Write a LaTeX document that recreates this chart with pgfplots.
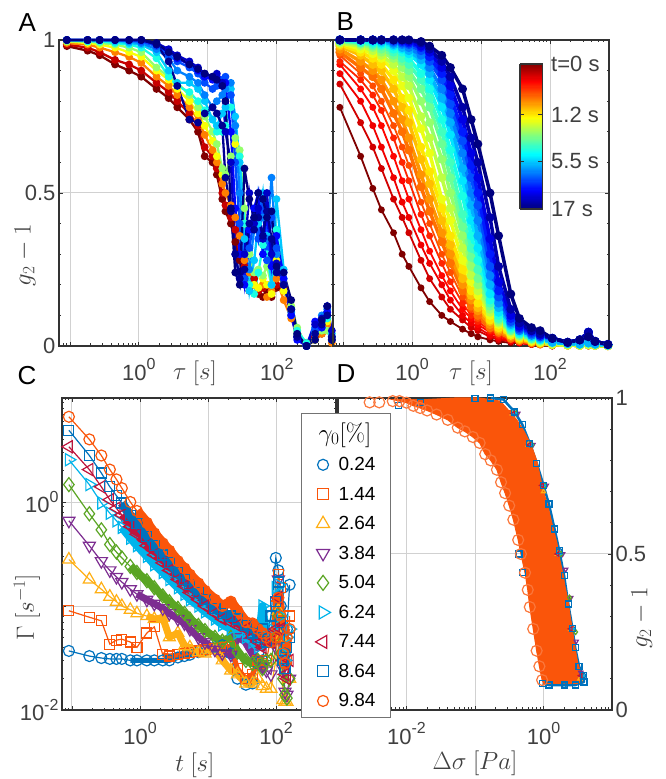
\documentclass[border=0pt]{standalone}
\usepackage[no-math]{fontspec}
\setmainfont{Liberation Sans}
\usepackage{pgfplots}
\usepackage{pgfplotstable}
\pgfplotsset{compat=1.18}
\definecolor{cB}{RGB}{0,114,189}
\definecolor{cO}{RGB}{250,85,10}
\definecolor{cY}{RGB}{255,175,20}
\definecolor{cP}{RGB}{125,45,145}
\definecolor{cG}{RGB}{90,165,35}
\definecolor{cC}{RGB}{0,180,235}
\definecolor{cR}{RGB}{190,20,60}
\newcommand\tl{\fontsize{22}{24}\selectfont}
\newcommand\ml{\fontsize{23}{25}\selectfont}
\newcommand\tenp[1]{10\raisebox{.48em}{\fontsize{16}{16}\selectfont #1}}
\pgfplotsset{
 colormap={rjet}{rgb255(0cm)=(128,0,0); rgb255(1cm)=(255,0,0); rgb255(3cm)=(255,255,0); rgb255(5cm)=(0,255,255); rgb255(7cm)=(0,0,255); rgb255(8cm)=(0,0,128)},
 base/.style={scale only axis,clip=false,axis line style={line width=1.2pt,draw=black!80},
  every tick/.style={line width=.9pt,black!80},every minor tick/.style={line width=.8pt,black!80},
  major tick length=4pt,minor tick length=2.5pt,
  grid=major,major grid style={black!18,line width=1pt},
  tick label style={font=\tl,text=black!75},label style={font=\ml,text=black!75},
  xticklabel style={yshift=-9pt}},
 logx/.style={minor xtick={.002,.003,.004,.005,.006,.007,.008,.009,.02,.03,.04,.05,.06,.07,.08,.09,.2,.3,.4,.5,.6,.7,.8,.9,2,3,4,5,6,7,8,9,20,30,40,50,60,70,80,90,200,300,400,500,600,700}},
 logy/.style={minor ytick={.02,.03,.04,.05,.06,.07,.08,.09,.2,.3,.4,.5,.6,.7,.8,.9,2,3,4,5,6,7,8,9}},
 cur/.style={color of colormap={#1 of rjet},mark=*,mark size=2.5pt,line width=1.8pt,mark options={solid}},
 curb/.style={cur=#1,line width=3.5pt,mark size=2.6pt},
 cura/.style={cur=#1,line width=2.3pt,mark size=2.7pt},
 ser/.style n args={3}{#1,mark=#2,mark size=5.5pt,line width=1.2pt,mark options={solid,fill=none,#3}},
 fat/.style n args={4}{forget plot,#1,no marks,line width=#2,line join=round,skip coords between index={0}{#3},skip coords between index={#4}{34}}
}
% panel B: first row lag times, then one row per age
\pgfplotstableread[header=false]{
.09 .18 .27 .36 .54 .72 .9 1.35 1.8 2.7 3.6 5.4 7.2 9 13.5 18 27 36 54 72 108 180 270 360 450 690
.78 .62 .515 .445 .37 .30 .26 .19 .145 .10 .08 .055 .04 .03 .02 .015 .01 .01 .005 .005 0 .005 0 0 .005 0
.856 .73 .65 .58 .48 .42 .37 .28 .22 .16 .12 .085 .06 .05 .03 .02 .015 .01 .005 .005 0 0 .005 0 0 0
.89 .80 .72 .65 .55 .47 .42 .33 .27 .20 .15 .10 .075 .06 .035 .025 .015 .01 .005 .005 0 0 0 0 0 0
.92 .84 .78 .72 .62 .54 .48 .38 .31 .23 .18 .12 .09 .07 .045 .03 .02 .012 .006 .004 .002 0 0 .002 0 0
.93 .87 .82 .77 .68 .6 .54 .43 .36 .27 .21 .14 .1 .08 .05 .035 .02 .014 .007 .005 .003 .002 0 0 0 0
.95 .89 .85 .8 .72 .65 .59 .47 .4 .3 .24 .16 .12 .09 .055 .04 .025 .015 .01 .005 .005 .003 .002 .004 .002 .001
.96 .91 .88 .84 .76 .7 .64 .52 .44 .34 .27 .18 .13 .1 .06 .045 .025 .017 .01 .006 .005 .003 .002 .004 .002 .001
.97 .93 .9 .87 .8 .74 .68 .56 .48 .37 .3 .2 .15 .115 .07 .05 .03 .02 .012 .008 .005 .003 .002 .004 .002 .001
.98 .95 .92 .9 .84 .78 .73 .61 .53 .41 .33 .22 .165 .125 .08 .055 .035 .022 .014 .01 .005 .003 .002 .004 .002 .001
.985 .96 .94 .92 .87 .81 .77 .65 .57 .45 .36 .25 .18 .14 .085 .06 .035 .025 .015 .01 .005 .003 .002 .004 .002 .001
.99 .97 .955 .94 .9 .85 .81 .71 .63 .48 .41 .28 .21 .165 .1 .07 .04 .03 .018 .012 .005 .003 .002 .004 .002 .001
.99 .98 .965 .95 .92 .88 .85 .75 .68 .55 .45 .32 .23 .18 .11 .075 .045 .03 .02 .014 .005 .003 .002 .004 .002 .001
.995 .985 .975 .96 .94 .91 .88 .8 .73 .61 .5 .36 .26 .2 .12 .08 .05 .035 .022 .016 .012 .008 .006 .01 .006 .003
.995 .99 .98 .97 .95 .93 .9 .84 .78 .66 .55 .39 .29 .22 .13 .085 .05 .035 .024 .018 .012 .008 .006 .01 .006 .003
1 .99 .985 .98 .96 .94 .92 .87 .81 .7 .6 .43 .32 .25 .14 .09 .055 .04 .025 .02 .012 .008 .006 .01 .006 .003
1 .995 .99 .985 .97 .96 .94 .89 .84 .74 .64 .49 .36 .28 .15 .1 .06 .04 .03 .02 .012 .008 .006 .01 .006 .003
1 1 .995 .99 .98 .97 .955 .92 .87 .78 .69 .54 .41 .32 .17 .11 .065 .045 .03 .022 .012 .008 .006 .01 .006 .003
1 1 1 .995 .985 .975 .965 .935 .89 .81 .73 .58 .46 .36 .2 .125 .07 .05 .035 .025 .012 .008 .006 .01 .006 .003
1 1 1 1 .99 .985 .975 .95 .91 .84 .76 .63 .5 .41 .23 .14 .075 .05 .035 .03 .025 .012 .02 .045 .015 .005
1 1 1 1 .995 .99 .985 .965 .93 .87 .79 .67 .55 .46 .26 .16 .08 .055 .04 .03 .025 .012 .02 .045 .015 .005
1 1 1 1 1 .995 .99 .975 .945 .89 .82 .7 .59 .5 .3 .18 .09 .06 .045 .035 .025 .012 .02 .045 .015 .005
1 1 1 1 1 1 .995 .98 .96 .91 .85 .74 .63 .55 .35 .21 .1 .065 .05 .035 .025 .012 .02 .045 .015 .005
1 1 1 1 1 1 1 .99 .97 .93 .88 .78 .68 .6 .42 .26 .12 .075 .05 .04 .025 .012 .02 .045 .015 .005
1 1 1 1 1 1 1 .995 .98 .95 .91 .84 .74 .66 .5 .36 .17 .09 .06 .05 .025 .012 .02 .03 .015 .005
}\Btab
\pgfplotstabletranspose\BT{\Btab}
% panel A
\pgfplotstableread[header=false]{
.09 .18 .27 .45 .72 1.08 1.8 2.7 3.6 5.4 7.2 9 11.7 13.5 16.2 18 21.6 25 29 34 40 47 54 63 72 84 99 126 162 198 270 360 450 540 630
.98 .965 .95 .92 .90 .88 .84 .81 .78 .74 .70 .62 .60 .56 .48 .44 .40 .34 .28 .22 .18 .20 .17 .16 .18 .16 .19 .20 .12 .04 0 .02 .04 .10 .03
.985 .975 .96 .935 .92 .90 .86 .83 .80 .76 .72 .65 .62 .58 .50 .46 .42 .38 .30 .26 .20 .22 .18 .19 .2 .17 .2 .19 .1 .03 .01 .03 .05 .09 .02
.99 .985 .975 .96 .945 .925 .88 .85 .82 .78 .74 .69 .64 .6 .53 .5 .46 .42 .36 .28 .24 .2 .19 .2 .16 .18 .22 .15 .09 .04 0 .02 .04 .07 .01
.995 .99 .985 .975 .96 .945 .90 .87 .84 .8 .76 .72 .67 .62 .56 .55 .6 .66 .62 .4 .3 .2 .19 .22 .2 .17 .28 .18 .13 .05 0 .02 .06 .08 .02
.995 .995 .99 .985 .975 .96 .91 .88 .86 .82 .78 .75 .7 .66 .58 .56 .62 .68 .64 .45 .3 .24 .25 .23 .26 .2 .3 .2 .13 .06 0 .02 .05 .05 .02
1 .995 .995 .99 .985 .975 .94 .88 .85 .83 .8 .77 .74 .7 .7 .72 .78 .72 .62 .4 .2 .17 .24 .33 .3 .2 .38 .22 .12 .05 .01 .04 .08 .09 .03
1 1 1 .995 .99 .985 .96 .9 .86 .86 .84 .8 .74 .72 .76 .78 .84 .75 .6 .35 .18 .28 .4 .5 .36 .2 .48 .25 .1 .04 0 .05 .06 .1 .04
1 1 1 1 .995 .99 .97 .94 .9 .88 .86 .82 .78 .8 .82 .84 .86 .72 .5 .3 .25 .38 .5 .42 .35 .55 .3 .2 .11 .03 0 .06 .1 .12 .02
1 1 1 1 1 .995 .98 .95 .93 .91 .89 .86 .84 .85 .87 .88 .82 .6 .4 .22 .32 .42 .35 .48 .28 .42 .32 .24 .12 .03 0 .05 .08 .13 .03
1 1 1 1 1 1 .985 .96 .94 .92 .9 .88 .87 .88 .85 .86 .7 .45 .3 .2 .38 .45 .5 .3 .44 .26 .36 .22 .1 .02 0 .08 .06 .11 .02
1 1 1 1 1 1 .99 .97 .95 .93 .91 .89 .88 .89 .86 .7 .6 .3 .22 .3 .5 .4 .45 .35 .5 .3 .27 .2 .12 .03 0 .07 .09 .13 .05
1 1 1 1 1 1 .985 .93 .85 .74 .73 .76 .78 .76 .72 .55 .44 .3 .22 .25 .4 .38 .42 .36 .44 .35 .24 .2 .12 .03 0 .04 .07 .1 .03
1 1 1 1 1 1 .99 .96 .945 .92 .905 .89 .88 .87 .85 .8 .45 .24 .2 .58 .48 .42 .5 .48 .42 .44 .26 .24 .15 .04 0 .02 .085 .13 .02
}\Atab
\pgfplotstabletranspose\AT{\Atab}
% panel C
\pgfplotstableread[header=false]{
.09 .18 .27 .36 .45 .54 .72 .9 1.26 1.62 2.16 2.7 3.6 4.5 5.4 7.2 9 12.6 16.2 21.6 27 36 45 54 63 72 84 99 108 117 126 135 144 158
.037 .033 .0316 .031 .031 .031 .03 .03 .03 .03 .03 .03 .032 .033 .034 .036 .038 .04 .042 .035 .02 .0175 .018 .028 .03 .05 .08 .29 .22 .1 .15 .035 .06 .16
.09 .078 .072 .043 .047 .048 .045 .04 .055 .063 .034 .033 .034 .035 .036 .037 .038 .039 .04 .041 .025 .02 .022 .03 .028 .03 .05 .1 .2 .15 .06 .025 .03 .08
.28 .18 .145 .123 .11 .1 .092 .085 .08 .075 .077 .05 .055 .041 .04 .036 .035 .038 .03 .024 .022 .018 .018 .02 .017 .016 .016 .03 .09 .05 .0125 .012 .012 .02
.66 .38 .27 .22 .19 .17 .145 .13 .115 .105 .095 .085 .075 .068 .06 .05 .045 .038 .035 .034 .05 .045 .035 .03 .026 .024 .022 .04 .18 .06 .025 .015 .014 .02
1.47 .77 .54 .39 .33 .29 .24 .21 .175 .15 .125 .11 .095 .085 .075 .065 .058 .05 .046 .05 .036 .03 .028 .03 .025 .03 .03 .05 .08 .035 .02 .014 .013 .02
2.55 1.47 .98 .78 .66 .57 .45 .38 .3 .25 .21 .18 .15 .13 .115 .1 .088 .075 .066 .06 .055 .05 .045 .04 .1 .05 .06 .15 .16 .08 .035 .03 .05 .06
3.4 2.05 1.4 1.05 .87 .75 .58 .49 .38 .31 .26 .22 .18 .155 .135 .115 .1 .085 .075 .07 .065 .06 .05 .045 .04 .05 .045 .06 .12 .06 .03 .022 .02 .03
4.9 2.8 1.9 1.4 1.15 .98 .74 .62 .47 .38 .31 .26 .21 .18 .16 .135 .115 .095 .085 .08 .075 .065 .055 .05 .06 .045 .08 .11 .17 .07 .03 .025 .04 .05
6.6 4.0 2.8 2.05 1.65 1.36 1.0 .82 .63 .5 .4 .34 .27 .23 .2 .165 .14 .115 .10 .11 .09 .07 .068 .06 .055 .05 .045 .05 .12 .08 .035 .028 .05 .06
}\Ctab
\pgfplotstabletranspose\CT{\Ctab}
\begin{document}
\begin{tikzpicture}[x=1pt,y=1pt]
\useasboundingbox (0,0) rectangle (665,779);
% ---------- A
\begin{axis}[base,logx,at={(59pt,433pt)},anchor=south west,width=274pt,height=306pt,
 xmode=log,xmin=.0692,xmax=655,ymin=0,ymax=1,
 xtick={.1,1,10,100},xticklabels={,\tenp{0},,\tenp{2}},
 ytick={0,.5,1},yticklabels={0,0.5,1},minor y tick num=4,
 xlabel={$\tau\ [s]$},xlabel style={at={(axis description cs:.496,-.088)},anchor=center},
 ylabel={$g_2-1$},ylabel style={at={(axis description cs:-.124,.297)},anchor=center}]
\addplot[cura=0] table[x index=1,y index=2]{\AT};
\addplot[cura=70] table[x index=1,y index=3]{\AT};
\addplot[cura=250] table[x index=1,y index=4]{\AT};
\addplot[cura=380] table[x index=1,y index=5]{\AT};
\addplot[cura=480] table[x index=1,y index=6]{\AT};
\addplot[cura=600] table[x index=1,y index=7]{\AT};
\addplot[cura=680] table[x index=1,y index=8]{\AT};
\addplot[cura=750] table[x index=1,y index=9]{\AT};
\addplot[cura=800] table[x index=1,y index=10]{\AT};
\addplot[cura=870] table[x index=1,y index=11]{\AT};
\addplot[cura=930] table[x index=1,y index=12]{\AT};
\addplot[cura=980] table[x index=1,y index=13]{\AT};
\addplot[cura=1000] table[x index=1,y index=14]{\AT};
\end{axis}
% ---------- B
\begin{axis}[base,logx,at={(333pt,433pt)},anchor=south west,width=276pt,height=306pt,
 xmode=log,xmin=.0716,xmax=716,ymin=0,ymax=1,
 xtick={.1,1,10,100},xticklabels={,\tenp{0},,\tenp{2}},
 ytick={0,.5,1},yticklabels={,,},minor y tick num=4,
 xlabel={$\tau\ [s]$},xlabel style={at={(axis description cs:.5,-.088)},anchor=center},
 colormap name=rjet,point meta min=0,point meta max=1,colorbar sampled,
 colorbar style={samples=129,at={(.6775,.9216)},anchor=north west,width=22.7pt,height=145pt,y dir=reverse,
  ytick={0,.35,.67,1},yticklabels={t=0 s,1.2 s,5.5 s,17 s},grid=none,
  minor y tick num=0,minor xtick={},minor ytick={},xticklabel style={yshift=0pt},
  axis line style={line width=1.2pt,draw=black!80},
  yticklabel style={font=\tl,text=black!75,xshift=5pt}}]
\addplot[cur=0] table[x index=1,y index=2]{\BT};
\addplot[cur=80] table[x index=1,y index=3]{\BT};
\addplot[cur=110] table[x index=1,y index=4]{\BT};
\addplot[cur=130] table[x index=1,y index=5]{\BT};
\addplot[cur=160] table[x index=1,y index=6]{\BT};
\addplot[cur=200] table[x index=1,y index=7]{\BT};
\addplot[curb=235] table[x index=1,y index=8]{\BT};
\addplot[curb=270] table[x index=1,y index=9]{\BT};
\addplot[curb=310] table[x index=1,y index=10]{\BT};
\addplot[curb=350] table[x index=1,y index=11]{\BT};
\addplot[curb=395] table[x index=1,y index=12]{\BT};
\addplot[curb=440] table[x index=1,y index=13]{\BT};
\addplot[curb=480] table[x index=1,y index=14]{\BT};
\addplot[curb=520] table[x index=1,y index=15]{\BT};
\addplot[curb=560] table[x index=1,y index=16]{\BT};
\addplot[curb=600] table[x index=1,y index=17]{\BT};
\addplot[curb=650] table[x index=1,y index=18]{\BT};
\addplot[curb=700] table[x index=1,y index=19]{\BT};
\addplot[curb=750] table[x index=1,y index=20]{\BT};
\addplot[curb=800] table[x index=1,y index=21]{\BT};
\addplot[curb=850] table[x index=1,y index=22]{\BT};
\addplot[curb=900] table[x index=1,y index=23]{\BT};
\addplot[curb=960] table[x index=1,y index=24]{\BT};
\addplot[curb=1000] table[x index=1,y index=25]{\BT};
\end{axis}
% ---------- C
\begin{axis}[base,logx,logy,at={(62pt,69pt)},anchor=south west,width=274pt,height=312pt,
 xmode=log,ymode=log,xmin=.0713,xmax=759,ymin=.01,ymax=10,
 xtick={.1,1,10,100},xticklabels={,\tenp{0},,\tenp{2}},
 ytick={.01,.1,1,10},yticklabels={\tenp{-2},,\tenp{0},},
 xlabel={$t\ [s]$},xlabel style={at={(axis description cs:.485,-.176)},anchor=center},
 ylabel={$\Gamma\ [s^{-1}]$},ylabel style={at={(axis description cs:-.128,.33)},anchor=center}]
\addplot[fat={cB}{5pt}{6}{20}] table[x index=1,y index=2]{\CT};
\addplot[ser={cB}{o}{}] table[x index=1,y index=2]{\CT};
\addplot[fat={cO}{5pt}{10}{24}] table[x index=1,y index=3]{\CT};
\addplot[ser={cO}{square}{},mark size=5pt] table[x index=1,y index=3]{\CT};
\addplot[fat={cY}{7pt}{8}{24}] table[x index=1,y index=4]{\CT};
\addplot[ser={cY}{triangle}{},mark size=7pt] table[x index=1,y index=4]{\CT};
\addplot[fat={cP}{7pt}{7}{24}] table[x index=1,y index=5]{\CT};
\addplot[ser={cP}{triangle}{rotate=180},mark size=7pt] table[x index=1,y index=5]{\CT};
\addplot[fat={cG}{8pt}{6}{26}] table[x index=1,y index=6]{\CT};
\addplot[ser={cG}{diamond}{},mark size=7pt] table[x index=1,y index=6]{\CT};
\addplot[fat={cC}{8pt}{5}{26}] table[x index=1,y index=7]{\CT};
\addplot[ser={cC}{triangle}{rotate=-90},mark size=7pt] table[x index=1,y index=7]{\CT};
\addplot[fat={cR}{8pt}{5}{27}] table[x index=1,y index=8]{\CT};
\addplot[ser={cR}{triangle}{rotate=90},mark size=7pt] table[x index=1,y index=8]{\CT};
\addplot[fat={cB}{9pt}{5}{24}] table[x index=1,y index=9]{\CT};
\addplot[ser={cB}{square}{},mark size=5pt] table[x index=1,y index=9]{\CT};
\addplot[fat={cO}{10pt}{7}{33}] table[x index=1,y index=10]{\CT};
\addplot[ser={cO}{o}{}] table[x index=1,y index=10]{\CT};
\end{axis}
% ---------- D
\begin{axis}[base,logx,at={(338pt,69pt)},anchor=south west,width=274pt,height=312pt,
 xmode=log,xmin=.001,xmax=10,ymin=0,ymax=1,
 xtick={.01,.1,1},xticklabels={\tenp{-2},,\tenp{0}},
 ytick={0,.5,1},yticklabels={0,0.5,1},minor y tick num=4,yticklabel pos=right,
 xlabel={$\Delta\sigma\ [Pa]$},xlabel style={at={(axis description cs:.5,-.17)},anchor=center},
 ylabel={$g_2-1$},ylabel style={at={(axis description cs:1.109,.295)},anchor=center},
 legend cell align=left,
 legend style={at={(-.135,.952)},anchor=north west,draw=black!55,line width=1pt,fill=white,
  font=\fontsize{19}{21}\selectfont,row sep=10.8pt,inner xsep=13pt,inner ysep=7pt}]
\addlegendimage{empty legend}\addlegendentry{\hspace{-14pt}\fontsize{24}{24}\selectfont$\gamma_0[\%]$}
\addlegendimage{only marks,ser={cB}{o}{}}\addlegendentry{\hspace{6pt}0.24}
\addlegendimage{only marks,ser={cO}{square}{},mark size=5.5pt}\addlegendentry{\hspace{6pt}1.44}
\addlegendimage{only marks,ser={cY}{triangle}{},mark size=7.5pt}\addlegendentry{\hspace{6pt}2.64}
\addlegendimage{only marks,ser={cP}{triangle}{rotate=180},mark size=7.5pt}\addlegendentry{\hspace{6pt}3.84}
\addlegendimage{only marks,ser={cG}{diamond}{},mark size=7.5pt}\addlegendentry{\hspace{6pt}5.04}
\addlegendimage{only marks,ser={cC}{triangle}{rotate=-90},mark size=7.5pt}\addlegendentry{\hspace{6pt}6.24}
\addlegendimage{only marks,ser={cR}{triangle}{rotate=90},mark size=7.5pt}\addlegendentry{\hspace{6pt}7.44}
\addlegendimage{only marks,ser={cB}{square}{},mark size=5.5pt}\addlegendentry{\hspace{6pt}8.64}
\addlegendimage{only marks,ser={cO}{o}{}}\addlegendentry{\hspace{6pt}9.84}
\addplot[forget plot,only marks,ser={cB}{o}{},mark size=2.5pt] coordinates {(.38,.955)(.63,.855)(1.0,.72)(1.7,.51)(2.65,.26)(3.8,.11)(2.0,.08)};
\addplot[forget plot,only marks,ser={cO}{square}{},mark size=2.5pt] coordinates {(.3,.95)(.6,.85)(.95,.72)(1.6,.5)(2.5,.26)(3.4,.11)};
\addplot[forget plot,only marks,ser={cY}{triangle}{},mark size=2.5pt] coordinates {(.35,.95)(.6,.85)(1.0,.7)(1.6,.5)(2.5,.26)(3.4,.1)};
\addplot[forget plot,only marks,ser={cP}{triangle}{rotate=180},mark size=2.5pt] coordinates {(.42,.95)(.7,.85)(1.1,.72)(1.9,.5)(2.1,.45)(2.5,.36)(3.0,.22)(3.5,.12)};
\addplot[forget plot,only marks,ser={cG}{diamond}{},mark size=2.5pt] coordinates {(.4,.95)(.68,.85)(1.05,.72)(1.8,.5)(2.4,.36)(2.95,.25)(3.6,.11)};
\addplot[forget plot,only marks,ser={cC}{triangle}{rotate=-90},mark size=2.5pt] coordinates {(.38,.95)(.65,.85)(1.0,.72)(1.7,.5)(2.6,.26)(3.6,.11)};
\addplot[forget plot,only marks,ser={cR}{triangle}{rotate=90},mark size=2.5pt] coordinates {(.36,.95)(.62,.85)(.95,.72)(1.6,.5)(2.5,.26)(3.5,.11)};
\addplot[forget plot,cB,line width=2.5pt,no marks,line join=round] coordinates {(.17,1)(.26,.995)(.38,.955)(.49,.915)(.63,.855)(.8,.79)(1.0,.72)(1.2,.66)(1.45,.58)(1.7,.51)(2.0,.43)(2.3,.34)(2.65,.26)(2.9,.2)(3.3,.14)(3.8,.11)(3.9,.09)(2.9,.08)(2.0,.08)(1.2,.08)(.97,.085)};
\addplot[forget plot,only marks,ser={cB}{square}{},mark size=3pt] coordinates {(.0076,.975)(.0158,.985)(.1,.998)(.17,1)(.26,.995)(.38,.955)(.49,.915)(.63,.855)(.8,.79)(1.0,.72)(1.2,.66)(1.45,.58)(1.7,.51)(2.0,.43)(2.3,.34)(2.65,.26)(2.9,.2)(3.3,.14)(3.8,.11)(3.9,.09)(2.9,.08)(2.0,.08)(1.2,.08)(.97,.085)(.5,.44)(.44,.5)};
\addplot[forget plot,fill=cO,draw=cO,line width=1pt] coordinates {(.01,.985)(.0126,.975)(.0158,.968)(.02,.96)(.0275,.947)(.04,.93)(.056,.905)(.071,.893)(.093,.875)(.117,.856)(.141,.82)(.17,.8)(.209,.77)(.24,.73)(.275,.695)(.316,.655)(.363,.61)(.427,.545)(.468,.5)(.537,.44)(.589,.385)(.631,.33)(.708,.26)(.794,.19)(.871,.14)(.955,.096)(1,.085)(1.26,.085)(2.0,.085)(3.16,.085)(3.63,.09)(3.63,.107)(3.16,.15)(2.88,.2)(2.6,.267)(2.45,.3)(2.29,.35)(2.04,.4)(1.95,.43)(1.86,.45)(1.66,.5)(1.57,.535)(1.32,.6)(1.17,.65)(1.0,.7)(.89,.75)(.794,.8)(.66,.85)(.5,.9)(.407,.93)(.34,.95)(.234,.99)(.117,1.0)(.05,1.0)(.02,.995)(.0063,.995)} --cycle;
\addplot[forget plot,only marks,ser={cO}{o}{},mark options={solid,fill=none,draw=cO!80!white}] coordinates {(.0029,.986)(.004,.986)(.0063,.99)(.0079,.99)(.01,.985)(.0126,.975)(.0158,.968)(.02,.96)(.0275,.947)(.04,.93)(.056,.905)(.071,.893)(.093,.875)(.117,.856)(.141,.82)(.17,.8)(.209,.77)(.24,.73)(.275,.695)(.316,.655)(.363,.61)(.427,.545)(.468,.5)(.537,.44)(.589,.385)(.631,.33)(.708,.26)(.794,.19)(.871,.14)(.955,.096)};
\end{axis}
\node[anchor=base west,font=\fontsize{26}{28}\selectfont] at (15,747) {A};
\node[anchor=base west,font=\fontsize{26}{28}\selectfont] at (333,748) {B};
\node[anchor=base west,font=\fontsize{26}{28}\selectfont] at (14,394) {C};
\node[anchor=base west,font=\fontsize{26}{28}\selectfont] at (333,396) {D};
\end{tikzpicture}
\end{document}
